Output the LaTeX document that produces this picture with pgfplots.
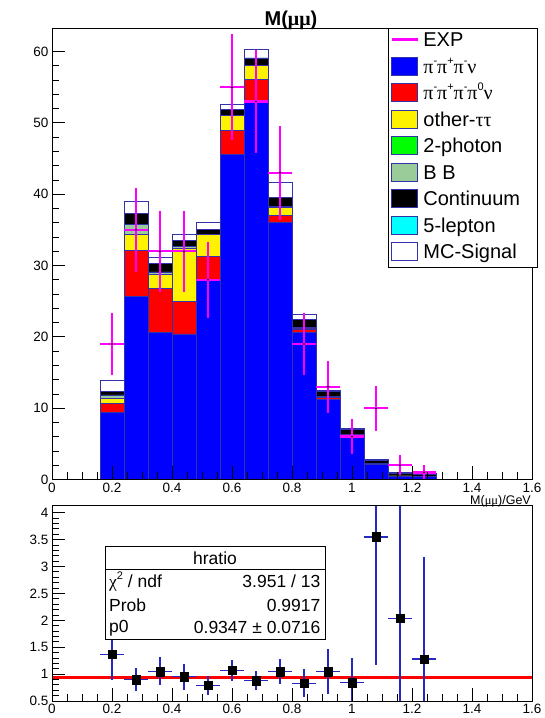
\documentclass[border=0pt]{standalone}
\usepackage{fontspec}
\setmainfont{Liberation Sans}
\newfontfamily\grk{Liberation Serif}
\usepackage{pgfplots}
\usepackage{pgfplotstable}
\pgfplotsset{compat=1.18}

\definecolor{sigblue}{RGB}{0,0,255}
\definecolor{edge}{RGB}{50,50,170}
\definecolor{bbgreen}{RGB}{153,204,153}
\definecolor{ggreen}{RGB}{0,255,0}
\definecolor{lepcyan}{RGB}{0,255,255}
\definecolor{expmag}{RGB}{255,0,255}
\definecolor{ratbar}{RGB}{40,40,190}

\newcommand\sups[1]{\raisebox{0.45em}{\fontsize{11}{11}\selectfont #1}}

% cumulative stack heights per bin (left bin edge in GeV, bin width 0.08 GeV)
\pgfplotstableread{
lo    sig3pi  sig4pi  tautau  gg     bb     cont   lep5   total
0.16  9.42    10.6    11.3    11.3   11.85  12.3   12.3   13.95
0.24  25.7    32.1    34.4    34.4   35.8   37.3   37.3   39.05
0.32  20.6    26.8    28.8    28.8   29.1   30.3   30.3   31.2
0.40  20.4    24.9    32.4    32.4   32.7   33.5   33.5   34.3
0.48  27.9    31.3    34.3    34.3   34.4   35.1   35.1   36.1
0.56  45.6    48.9    51.0    51.0   51.1   51.9   51.9   52.6
0.64  53.1    56.1    58.0    58.0   58.1   59.1   59.1   60.3
0.72  36.0    37.0    38.1    38.1   38.3   39.6   39.6   41.6
0.80  20.6    21.1    21.2    21.2   21.3   22.5   22.5   23.2
0.88  11.2    11.5    11.6    11.6   11.7   12.3   12.3   12.5
0.96  6.2     6.25    6.3     6.3    6.3    7.0    7.0    7.2
1.04  2.1     2.15    2.2     2.2    2.2    2.7    2.7    2.83
1.12  0.5     0.5     0.5     0.5    0.5    0.9    0.9    0.98
1.20  0.4     0.4     0.4     0.4    0.4    0.75   0.75   0.79
1.28  0       0       0       0      0      0      0      0
}\stack

% measured events with Poisson errors
\pgfplotstableread{
x     y    ey
0.20  19   4.36
0.28  35   5.92
0.36  32   5.66
0.44  32   5.66
0.52  28   5.29
0.60  55   7.42
0.68  53   7.28
0.76  43   6.56
0.84  19   4.36
0.92  13   3.61
1.00  6    2.45
1.08  10   3.16
1.16  2    1.41
1.24  1    1.00
}\expdata

% data / MC ratio
\pgfplotstableread{
x     y     ey
0.20  1.37  0.48
0.28  0.90  0.22
0.36  1.05  0.26
0.44  0.95  0.24
0.52  0.79  0.18
0.60  1.07  0.20
0.68  0.88  0.17
0.76  1.05  0.23
0.84  0.83  0.26
0.92  1.05  0.42
1.00  0.84  0.46
1.08  3.55  2.38
1.16  2.04  2.30
1.24  1.28  1.90
}\ratio

\pgfplotsset{
  rootaxis/.style={
    scale only axis,
    width=480pt,
    xmin=0, xmax=1.6,
    xtick={0,0.2,0.4,0.6,0.8,1,1.2,1.4,1.6},
    minor x tick num=3,
    tick pos=left,
    major tick length=13pt,
    minor tick length=7pt,
    every tick/.style={black, line width=0.8pt},
    axis line style={line width=0.8pt},
    ticklabel style={font=\fontsize{13.5}{13.5}\selectfont},
    /pgf/number format/assume math mode=true,
    axis on top,
  },
  stackbar/.style={ybar interval, draw=edge, line width=0.8pt, fill=#1},
}

\begin{document}
\begin{tikzpicture}
\useasboundingbox (0pt,0pt) rectangle (544pt,718pt);

% ---- upper panel: stacked MC and data ----
\begin{axis}[
  rootaxis,
  at={(52pt,238.5pt)}, anchor=south west,
  height=451.5pt,
  ymin=0, ymax=63.3,
  ytick={0,10,20,30,40,50,60},
  minor y tick num=4,
]
\addplot[stackbar=white]   table[x=lo, y=total] {\stack};
\addplot[stackbar=lepcyan] table[x=lo, y=lep5]  {\stack};
\addplot[stackbar=black]   table[x=lo, y=cont]  {\stack};
\addplot[stackbar=bbgreen] table[x=lo, y=bb]    {\stack};
\addplot[stackbar=ggreen]  table[x=lo, y=gg]    {\stack};
\addplot[stackbar=yellow]  table[x=lo, y=tautau]{\stack};
\addplot[stackbar=red]     table[x=lo, y=sig4pi]{\stack};
\addplot[stackbar=sigblue] table[x=lo, y=sig3pi]{\stack};

\addplot[only marks, mark=*, mark size=0.6pt, mark options={black},
  error bars/.cd, y dir=both, y explicit, x dir=both, x fixed=0.04,
  error mark=none, error bar style={expmag, line width=2.5pt}]
  table[x=x, y=y, y error=ey] {\expdata};

\node[rotate=90, anchor=east, inner sep=0pt, font=\fontsize{10.8}{10.8}\selectfont]
  at (rel axis cs:-0.063,1.002) {Event entry/0.08 GeV};
\end{axis}

% ---- lower panel: ratio ----
\begin{axis}[
  rootaxis,
  at={(52pt,17pt)}, anchor=south west,
  height=195.3pt,
  ymin=0.5, ymax=4.13,
  ytick={0.5,1,1.5,2,2.5,3,3.5,4},
  minor y tick num=4,
]
\addplot[red, line width=3pt] coordinates {(0,0.9347) (1.6,0.9347)};
\addplot[only marks, mark=square*, mark size=4.3pt, black,
  error bars/.cd, y dir=both, y explicit, x dir=both, x fixed=0.04,
  error mark=none, error bar style={ratbar, line width=1.2pt}]
  table[x=x, y=y, y error=ey] {\ratio};

% fit statistics box
\draw[black, line width=0.8pt, fill=white] (0.177,1.64) rectangle (0.91,3.38);
\draw[black, line width=0.8pt] (0.177,2.95) -- (0.91,2.95);
\begin{scope}[every node/.style={font=\fontsize{17.5}{17.5}\selectfont, inner sep=0pt}]
\node at (0.5435,3.15) {hratio};
\node[anchor=west] at (0.19,2.72) {{\grk χ}\sups{2} / ndf};
\node[anchor=east] at (0.895,2.72) {3.951 / 13};
\node[anchor=west] at (0.19,2.28) {Prob};
\node[anchor=east] at (0.895,2.28) {0.9917};
\node[anchor=west] at (0.19,1.86) {p0};
\node[anchor=east] at (0.895,1.86) {0.9347 ± 0.0716};
\end{scope}
\end{axis}

% ---- title and axis label ----
\node[font=\fontsize{20}{20}\selectfont\bfseries] at (291pt,698pt) {M({\grk μμ})};
\node[anchor=base east, inner sep=0pt, font=\fontsize{12.5}{12.5}\selectfont] at (531pt,213pt) {M({\grk μμ})/GeV};

% ---- legend ----
\begin{scope}[line width=0.8pt]
\draw[black, fill=white] (388pt,451pt) rectangle (537pt,690pt);
\draw[expmag, line width=2.5pt] (391.7pt,678.5pt) -- (417.7pt,678.5pt);
\foreach \yc/\col in {652/sigblue, 625.5/red, 599/yellow, 572.5/ggreen, 546/bbgreen, 519.5/black, 493/lepcyan, 466.5/white}
  \draw[edge, fill=\col] (391.7pt,\yc pt-9pt) rectangle (417.7pt,\yc pt+9pt);
\begin{scope}[every node/.style={anchor=base west, inner sep=0pt, font=\fontsize{20}{20}\selectfont}]
\node at (423pt,671.3pt) {EXP};
\node at (423pt,644.8pt) {{\grk π}\sups{-}{\grk π}\sups{+}{\grk π}\sups{-}{\grk ν}};
\node at (423pt,618.3pt) {{\grk π}\sups{-}{\grk π}\sups{+}{\grk π}\sups{-}{\grk π}\sups{0}{\grk ν}};
\node at (423pt,591.8pt) {other-{\grk ττ}};
\node at (423pt,565.3pt) {2-photon};
\node at (423pt,538.8pt) {B B};
\node at (423pt,512.3pt) {Continuum};
\node at (423pt,485.8pt) {5-lepton};
\node at (423pt,459.3pt) {MC-Signal};
\end{scope}
\end{scope}
\end{tikzpicture}
\end{document}
